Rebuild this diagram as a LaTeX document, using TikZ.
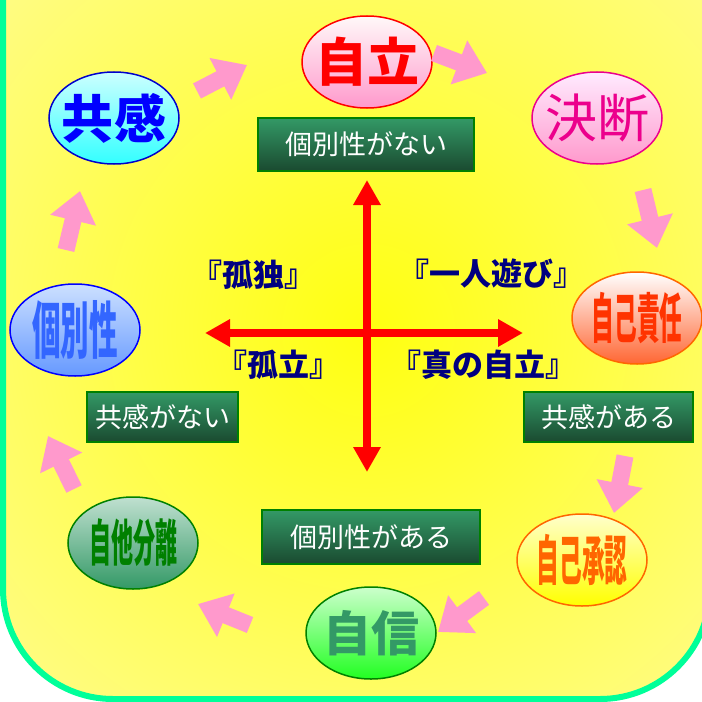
\documentclass[tikz,border=0pt]{standalone}
\usepackage{fontspec}
\newfontfamily\jp{Noto Sans CJK JP}
\usetikzlibrary{shapes.geometric,arrows.meta}
\definecolor{bginner}{HTML}{FFFF10}
\definecolor{bgouter}{HTML}{FFFC88}
\definecolor{bordergreen}{HTML}{00FF99}
\definecolor{pinkarrow}{HTML}{FF99CC}
\definecolor{boxtop}{HTML}{339966}
\definecolor{boxbot}{HTML}{1A4A30}
\definecolor{boxborder}{HTML}{008000}
\definecolor{navy}{HTML}{000080}
\begin{document}
\begin{tikzpicture}[x=1bp,y=-1bp,
  ell/.style={ellipse, minimum width=130bp, minimum height=92bp, inner sep=0pt, line width=1.5bp},
  lab/.style={inner sep=0pt, font=\jp\bfseries\fontsize{52bp}{52bp}\selectfont},
  gbox/.style={rectangle, draw=boxborder, line width=2bp, top color=boxtop, bottom color=boxbot,
    text=white, inner sep=0pt, font=\jp\fontsize{27bp}{27bp}\selectfont},
  quad/.style={text=navy, inner sep=0pt, font=\jp\bfseries\fontsize{31bp}{31bp}\selectfont},
  parrow/.style={draw=pinkarrow, line width=17bp, -{Triangle[length=30bp,width=45bp]}},
  rarrow/.style={draw=red, line width=8bp, {Triangle[length=25bp,width=26bp]}-{Triangle[length=25bp,width=26bp]}}
]
\useasboundingbox (0,0) rectangle (702,702);
% background panel
\begin{scope}
  \clip (0,0) rectangle (702,702);
  \fill[bgouter, rounded corners=110bp] (3,-120) rectangle (710,699);
  \begin{scope}
    \clip[rounded corners=110bp] (3,-120) rectangle (710,699);
    \shade[inner color=bginner, outer color=bgouter] (368,330) circle (520);
  \end{scope}
  \draw[bordergreen, line width=6bp, rounded corners=110bp] (3,-120) rectangle (710,699);
\end{scope}

% red cross
\coordinate (hL) at (205,333);
\coordinate (hR) at (523,333);
\coordinate (vT) at (367,180);
\coordinate (vB) at (367,472);
\draw[rarrow] (hL) -- (hR);
\draw[rarrow] (vT) -- (vB);

% ellipses
\node[ell, draw=red, top color=white!90!pink, bottom color=pinkarrow] (jiritsu) at (367,62) {};
\node[lab, text=red] (jiritsu-t) at (jiritsu) {自立};
\node[ell, draw=magenta, top color=white!92!magenta, bottom color=pinkarrow] (ketsudan) at (597,118) {};
\node[lab, text=magenta, font=\jp\fontsize{52bp}{52bp}\selectfont] (ketsudan-t) at (ketsudan) {決断};
\node[ell, draw={rgb,255:red,0;green,0;blue,204}, top color={rgb,255:red,204;green,255;blue,255}, bottom color={rgb,255:red,51;green,255;blue,255}] (kyokan) at (114,118) {};
\node[lab, text=blue] (kyokan-t) at (kyokan) {共感};
\node[ell, draw=blue, top color={rgb,255:red,204;green,224;blue,255}, bottom color={rgb,255:red,102;green,153;blue,255}] (kobetsu) at (75,330) {};
\node[lab, text={rgb,255:red,51;green,102;blue,255}, font=\jp\bfseries\fontsize{62bp}{62bp}\selectfont] (kobetsu-t) at (kobetsu) {\scalebox{0.46}[1]{個別性}};
\node[ell, draw={rgb,255:red,255;green,102;blue,0}, top color=white, bottom color={rgb,255:red,255;green,102;blue,51}] (sekinin) at (637,318) {};
\node[lab, text={rgb,255:red,255;green,51;blue,0}, font=\jp\bfseries\fontsize{54bp}{54bp}\selectfont] (sekinin-t) at (sekinin) {\scalebox{0.42}[1]{自己責任}};
\node[ell, draw={rgb,255:red,255;green,102;blue,0}, top color={rgb,255:red,255;green,255;blue,204}, bottom color={rgb,255:red,255;green,255;blue,0}] (shonin) at (582,560) {};
\node[lab, text={rgb,255:red,255;green,102;blue,0}, font=\jp\bfseries\fontsize{54bp}{54bp}\selectfont] (shonin-t) at (shonin) {\scalebox{0.42}[1]{自己承認}};
\node[ell, draw=boxborder, top color={rgb,255:red,204;green,255;blue,204}, bottom color={rgb,255:red,34;green,255;blue,34}] (jishin) at (371,633) {};
\node[lab, text=boxtop, font=\jp\bfseries\fontsize{48bp}{48bp}\selectfont] (jishin-t) at (jishin) {自信};
\node[ell, draw=boxborder, top color={rgb,255:red,192;green,224;blue,208}, bottom color=boxtop] (bunri) at (133,543) {};
\node[lab, text=boxborder, font=\jp\bfseries\fontsize{50bp}{50bp}\selectfont] (bunri-t) at (bunri) {\scalebox{0.44}[1]{自他分離}};

% green boxes
\node[gbox, minimum width=216bp, minimum height=53bp] (b1) at (366,144.5) {個別性がない};
\node[gbox, minimum width=151bp, minimum height=50bp] (b2) at (162.5,417) {共感がない};
\node[gbox, minimum width=169bp, minimum height=50bp] (b3) at (608.5,417) {共感がある};
\node[gbox, minimum width=218bp, minimum height=54bp] (b4) at (371,537) {個別性がある};

% quadrant labels
\node[quad] (q1) at (253,275) {『孤独』};
\node[quad] (q2) at (491,274) {『一人遊び』};
\node[quad] (q3) at (278,365) {『孤立』};
\node[quad] (q4) at (483,365) {『真の自立』};

% pink arrows
\coordinate (a1s) at (197,91);  \coordinate (a1e) at (247,65);
\coordinate (a2s) at (434,53);  \coordinate (a2e) at (487,73);
\coordinate (a3s) at (643,190); \coordinate (a3e) at (657,248);
\coordinate (a4s) at (625,456); \coordinate (a4e) at (614,513);
\coordinate (a5s) at (484,598); \coordinate (a5e) at (438,632);
\coordinate (a6s) at (250,625); \coordinate (a6e) at (198,604);
\coordinate (a7s) at (74,489);  \coordinate (a7e) at (48,436);
\coordinate (a8s) at (66,250);  \coordinate (a8e) at (80,191);
\foreach \i in {1,...,8} {\draw[parrow] (a\i s) -- (a\i e);}
\end{tikzpicture}
\end{document}
